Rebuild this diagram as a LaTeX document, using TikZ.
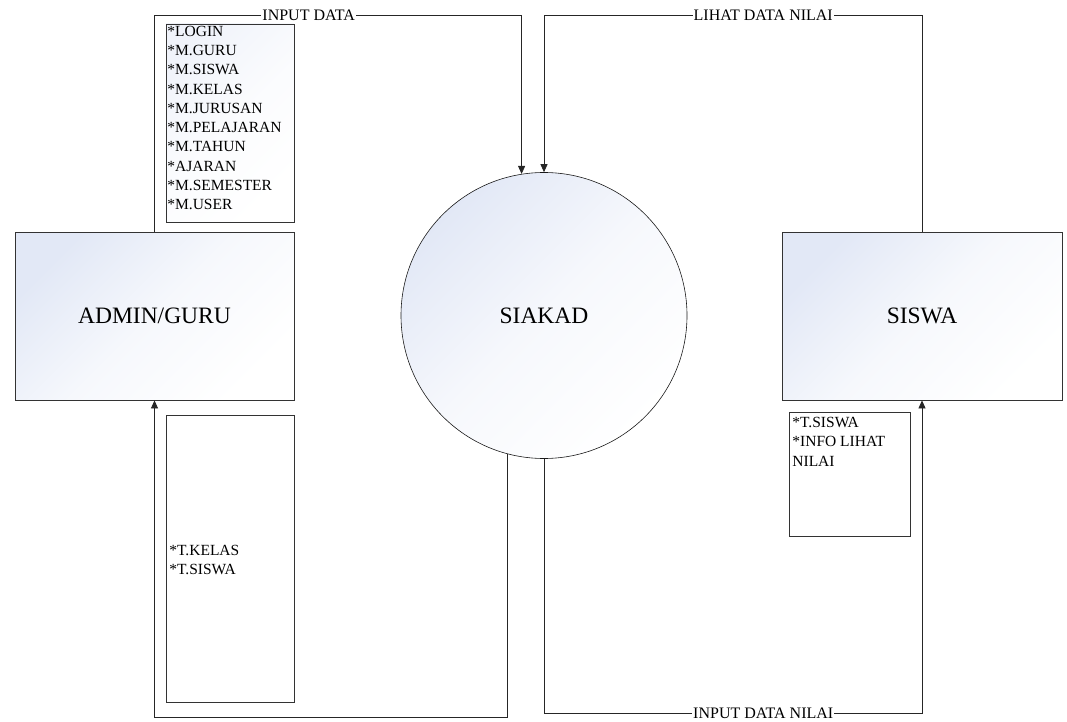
\documentclass[tikz,border=0pt]{standalone}
\usepackage{fontspec}
\setmainfont{Liberation Serif}
\usetikzlibrary{arrows.meta}
\definecolor{biru}{RGB}{226,232,246}

\begin{document}
\begin{tikzpicture}
  [x=1pt,y=-1pt,line width=0.8pt,
   entitas/.style={draw=black!80,rectangle,top color=biru,bottom color=white,middle color=biru!30,shading angle=45,
     minimum width=279pt,minimum height=168pt,font=\fontsize{23.5}{27}\selectfont},
   proses/.style={draw=black!90,line width=0.6pt,circle,top color=biru,bottom color=white,middle color=biru!30,shading angle=45,
     minimum size=286pt,font=\fontsize{23.5}{27}\selectfont},
   catatan/.style={draw=black!80,rectangle,fill=white},
   isi/.style={anchor=north west,inner sep=0pt,align=left,font=\fontsize{15.5}{19.3}\selectfont},
   alur/.style={draw=black!85,-{Triangle[length=8pt,width=7pt]}},
   ket/.style={fill=white,inner sep=1pt,font=\fontsize{16}{19}\selectfont}]
  \useasboundingbox (0,0) rectangle (1067,722);

  \node[entitas] (admin) at (154.5,316) {ADMIN/GURU};
  \node[proses] (siakad) at (544,315.5) {SIAKAD};
  \node[entitas,minimum width=280pt] (siswa) at (922,316) {SISWA};

  \node[catatan,top color=biru!50,bottom color=white,middle color=biru!15,shading angle=45,
    minimum width=128pt,minimum height=198pt] (catA) at (230,123) {};
  \node[catatan,minimum width=128pt,minimum height=287pt] (catB) at (230,558.5) {};
  \node[catatan,minimum width=121pt,minimum height=124pt] (catC) at (849.5,474) {};

  \node[isi] (isiA) at (167,25.5) {*LOGIN\\*M.GURU\\*M.SISWA\\*M.KELAS\\*M.JURUSAN\\*M.PELAJARAN\\*M.TAHUN\\*AJARAN\\*M.SEMESTER\\*M.USER};
  \node[isi] (isiB) at (169,545) {*T.KELAS\\*T.SISWA};
  \node[isi] (isiC) at (792,417) {*T.SISWA\\*INFO LIHAT\\NILAI};

  \draw[alur] (admin.north) -- (admin.north |- 0,15) -| node[ket,pos=0.21]{INPUT DATA} (siakad.99.7);
  \draw[alur] (siswa.north) -- (siswa.north |- 0,15) -| node[ket,pos=0.21]{LIHAT DATA NILAI} (siakad.north);
  \draw[alur] (siakad.255.4) -- (siakad.255.4 |- 0,717) -| (admin.south);
  \draw[alur] (siakad.south) -- (siakad.south |- 0,713) -| node[ket,pos=0.29]{INPUT DATA NILAI} (siswa.south);
\end{tikzpicture}
\end{document}
